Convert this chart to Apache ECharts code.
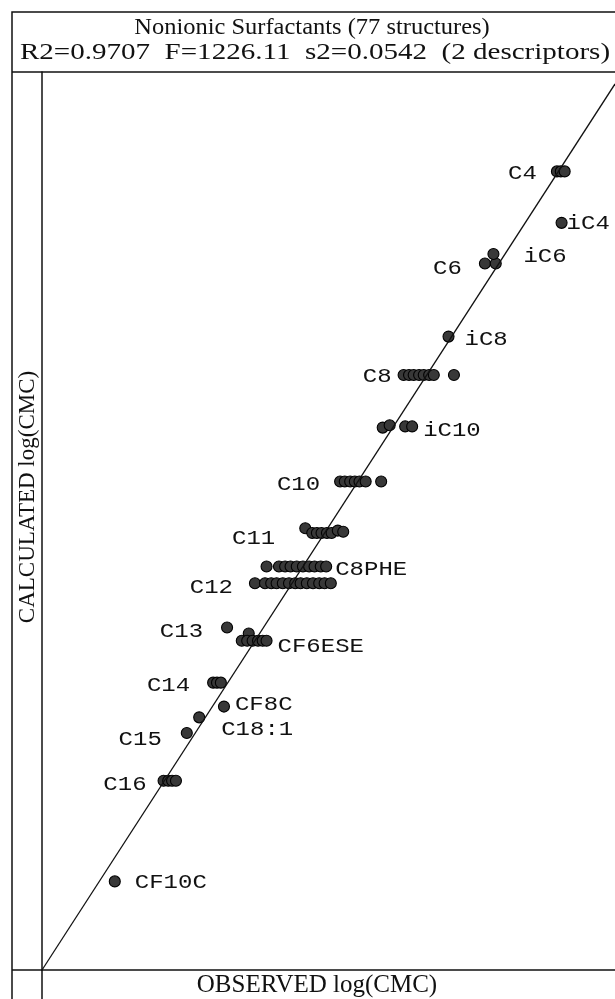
<!DOCTYPE html>
<html>
<head>
<meta charset="utf-8">
<script src="https://cdn.jsdelivr.net/npm/echarts@6/dist/echarts.min.js"></script>
<style>
  html, body { margin: 0; padding: 0; background: #fff; }
  #chart { width: 615px; height: 999px; }
</style>
</head>
<body>
<div id="chart"></div>
<script>
// Surfactant families, in drawing order, and how many structures each has
const groupNames = ['C4', 'iC4', 'C6', 'iC6', 'iC8', 'C8', 'iC10', 'C10', 'C11', 'C8PHE',
  'C12', 'C13', 'CF6ESE', 'C14', 'CF8C', 'C18:1', 'C15', 'C16', 'CF10C'];
const groupSizes = [3, 1, 2, 1, 1, 8, 4, 7, 8, 10, 13, 1, 7, 3, 1, 1, 1, 4, 1];

// Observed log(CMC), one value per structure, grouped as above
const observedLogCMC = [
  -0.85, -0.80, -0.75,
  -0.79,
  -1.78, -1.64,
  -1.67,
  -2.25,
  -2.83, -2.76, -2.70, -2.63, -2.57, -2.50, -2.44, -2.18,
  -3.10, -3.01, -2.81, -2.72,
  -3.65, -3.59, -3.52, -3.46, -3.40, -3.32, -3.12,
  -4.10, -4.01, -3.95, -3.89, -3.82, -3.76, -3.68, -3.61,
  -4.60, -4.44, -4.36, -4.29, -4.21, -4.13, -4.05, -3.98, -3.90, -3.83,
  -4.75, -4.62, -4.54, -4.47, -4.39, -4.31, -4.23, -4.16, -4.08, -4.00, -3.92, -3.85, -3.77,
  -5.11,
  -4.83, -4.92, -4.85, -4.78, -4.71, -4.65, -4.60,
  -5.29, -5.24, -5.19,
  -5.15,
  -5.47,
  -5.63,
  -5.93, -5.87, -5.82, -5.77,
  -6.56
];

// Calculated log(CMC) from the two-descriptor model
const calculatedLogCMC = [
  -0.83, -0.83, -0.83,
  -1.26,
  -1.60, -1.60,
  -1.52,
  -2.21,
  -2.53, -2.53, -2.53, -2.53, -2.53, -2.53, -2.53, -2.53,
  -2.97, -2.95, -2.96, -2.96,
  -3.42, -3.42, -3.42, -3.42, -3.42, -3.42, -3.42,
  -3.81, -3.85, -3.85, -3.85, -3.85, -3.85, -3.83, -3.84,
  -4.13, -4.13, -4.13, -4.13, -4.13, -4.13, -4.13, -4.13, -4.13, -4.13,
  -4.27, -4.27, -4.27, -4.27, -4.27, -4.27, -4.27, -4.27, -4.27, -4.27, -4.27, -4.27, -4.27,
  -4.64,
  -4.69, -4.75, -4.75, -4.75, -4.75, -4.75, -4.75,
  -5.10, -5.10, -5.10,
  -5.30,
  -5.39,
  -5.52,
  -5.92, -5.92, -5.92, -5.92,
  -6.76
];

// Axis ranges (log units); the visible window ends just short of the top on x
const axisMin = -7.5;
const xAxisMax = -0.1;
const yAxisMax = 0;

// Text
const titleLine1 = 'Nonionic Surfactants (77 structures)';
const titleLine2 = 'R2=0.9707  F=1226.11  s2=0.0542  (2 descriptors)';
const xAxisTitle = 'OBSERVED log(CMC)';
const yAxisTitle = 'CALCULATED log(CMC)';

// Label placement next to each family: side of the cluster and pixel nudge
const labelLayout = [
  { side: 'left', dx: -20, dy: 2 },   // C4
  { side: 'right', dx: 5, dy: 1 },    // iC4
  { side: 'left', dx: -23, dy: 5 },   // C6
  { side: 'right', dx: 30, dy: 3 },   // iC6
  { side: 'right', dx: 16, dy: 3 },   // iC8
  { side: 'left', dx: -12, dy: 2 },   // C8
  { side: 'right', dx: 11, dy: 4 },   // iC10
  { side: 'left', dx: -20, dy: 3 },   // C10
  { side: 'left', dx: -30, dy: 11 },  // C11
  { side: 'right', dx: 9, dy: 3 },    // C8PHE
  { side: 'left', dx: -22, dy: 4 },   // C12
  { side: 'left', dx: -24, dy: 4 },   // C13
  { side: 'right', dx: 11, dy: 6 },   // CF6ESE
  { side: 'left', dx: -23, dy: 3 },   // C14
  { side: 'right', dx: 11, dy: -2 },  // CF8C
  { side: 'right', dx: 22, dy: 12 },  // C18:1
  { side: 'left', dx: -25, dy: 7 },   // C15
  { side: 'left', dx: -17, dy: 4 },   // C16
  { side: 'right', dx: 20, dy: 1 }    // CF10C
];

const INK = '#111';
const chart = echarts.init(document.getElementById('chart'), null, { renderer: 'canvas' });

const points = observedLogCMC.map((x, i) => [x, calculatedLogCMC[i]]);

chart.setOption({
  backgroundColor: '#fff',
  animation: false,
  grid: { left: 42, top: 72, right: 0, bottom: 29, containLabel: false },
  xAxis: {
    type: 'value', min: axisMin, max: xAxisMax,
    axisLine: { show: true, onZero: false, lineStyle: { color: INK, width: 1.5 } },
    axisTick: { show: false }, axisLabel: { show: false }, splitLine: { show: false }
  },
  yAxis: {
    type: 'value', min: axisMin, max: yAxisMax,
    axisLine: { show: true, onZero: false, lineStyle: { color: INK, width: 1.5 } },
    axisTick: { show: false }, axisLabel: { show: false }, splitLine: { show: false }
  },
  series: [
    {
      type: 'scatter',
      data: points,
      symbol: 'circle',
      symbolSize: 11,
      itemStyle: { color: '#383838', borderColor: '#000', borderWidth: 1.1, opacity: 1 },
      z: 2
    },
    {
      // line of perfect agreement, observed = calculated
      type: 'line',
      data: [[axisMin, axisMin], [xAxisMax, xAxisMax]],
      symbol: 'none',
      lineStyle: { color: INK, width: 1.3 },
      z: 3
    }
  ]
});

// Family labels, placed beside the outermost member of each cluster
const labelGraphics = [];
let start = 0;
groupNames.forEach((name, g) => {
  const n = groupSizes[g];
  let idx = start;
  for (let k = start; k < start + n; k++) {
    if (labelLayout[g].side === 'left' ? observedLogCMC[k] < observedLogCMC[idx]
                                       : observedLogCMC[k] > observedLogCMC[idx]) idx = k;
  }
  const p = chart.convertToPixel({ gridIndex: 0 }, points[idx]);
  labelGraphics.push({
    type: 'text',
    x: p[0] + labelLayout[g].dx,
    y: p[1] + labelLayout[g].dy,
    scaleX: 1.2,
    style: {
      text: name,
      fill: INK,
      font: '20px "Liberation Mono", "DejaVu Sans Mono", monospace',
      align: labelLayout[g].side === 'left' ? 'right' : 'left',
      verticalAlign: 'middle'
    },
    z: 10
  });
  start += n;
});

const serif = '"Liberation Serif", "DejaVu Serif", serif';
chart.setOption({
  graphic: [
    // outer frame and title box
    { type: 'rect', shape: { x: 12, y: 12, width: 700, height: 1100 },
      style: { fill: 'none', stroke: INK, lineWidth: 1.5 }, silent: true },
    { type: 'line', shape: { x1: 12, y1: 72, x2: 640, y2: 72 },
      style: { stroke: INK, lineWidth: 1.5 } },
    // axis lines carried out to the frame
    { type: 'line', shape: { x1: 12, y1: 970, x2: 42, y2: 970 },
      style: { stroke: INK, lineWidth: 1.5 } },
    { type: 'line', shape: { x1: 42, y1: 970, x2: 42, y2: 1010 },
      style: { stroke: INK, lineWidth: 1.5 } },
    { type: 'text', x: 312, y: 28, scaleX: 1.02,
      style: { text: titleLine1, fill: INK, font: '24px ' + serif, align: 'center', verticalAlign: 'middle' } },
    { type: 'text', x: 315, y: 53, scaleX: 1.21,
      style: { text: titleLine2, fill: INK, font: '24px ' + serif, align: 'center', verticalAlign: 'middle' } },
    { type: 'text', x: 317, y: 985,
      style: { text: xAxisTitle, fill: INK, font: '25px ' + serif, align: 'center', verticalAlign: 'middle' } },
    { type: 'text', x: 28, y: 497, rotation: Math.PI / 2,
      style: { text: yAxisTitle, fill: INK, font: '23px ' + serif, align: 'center', verticalAlign: 'middle' } }
  ].concat(labelGraphics)
});
</script>
</body>
</html>
